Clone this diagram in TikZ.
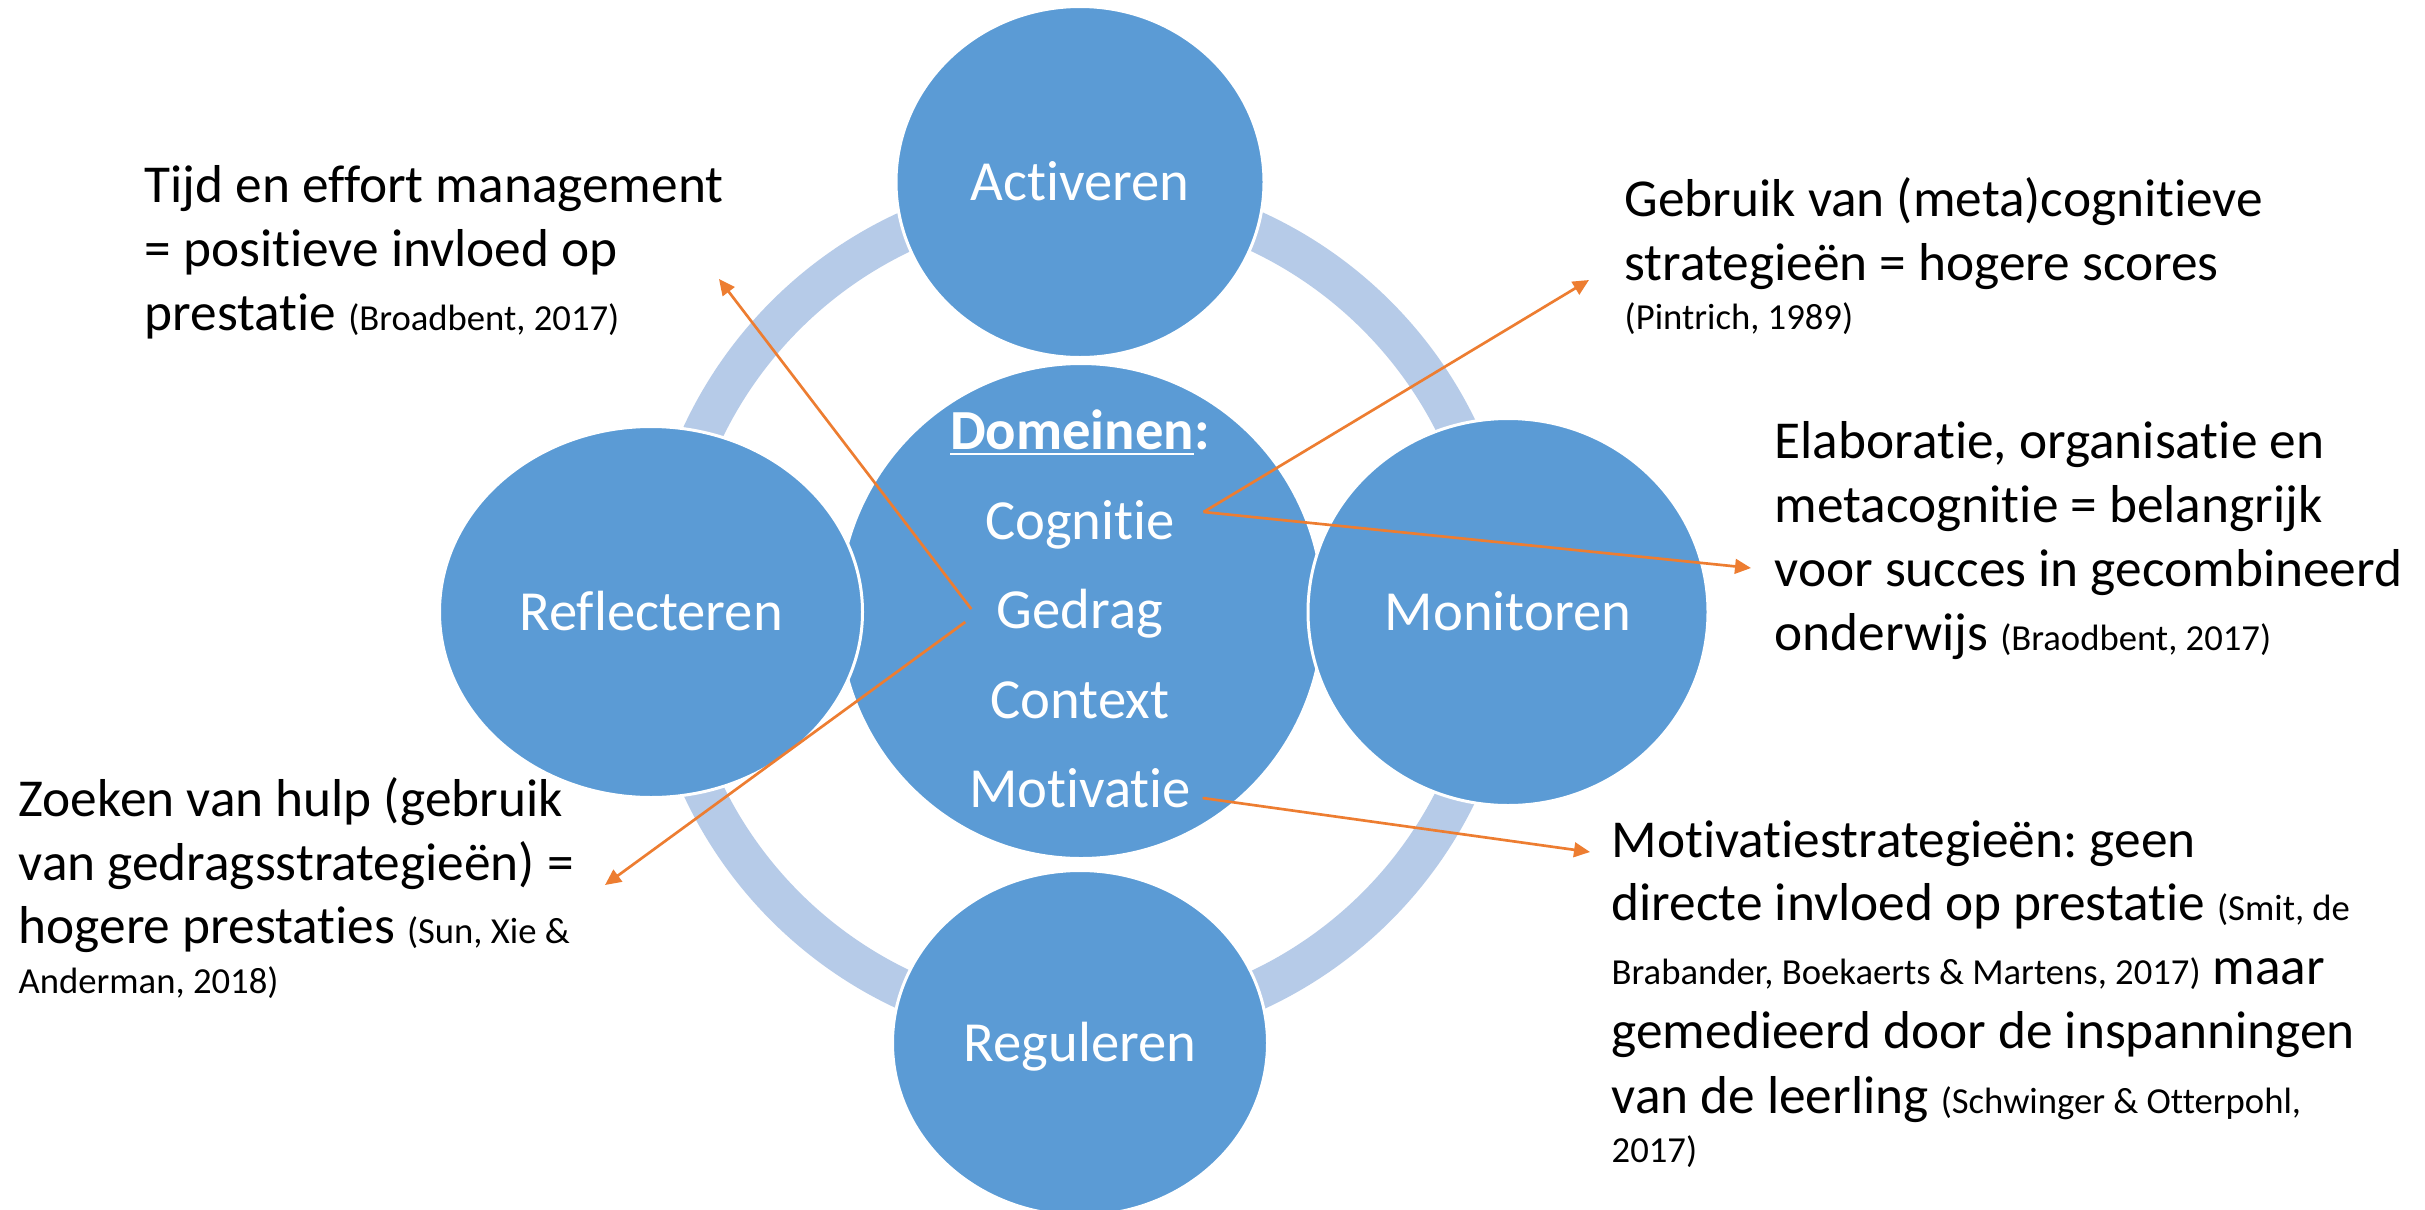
\documentclass[tikz,border=0pt]{standalone}
\usepackage{fontspec}
\setmainfont{Carlito}[Ligatures=NoCommon]
\usetikzlibrary{shapes.geometric,arrows.meta}
\definecolor{cblue}{HTML}{5B9BD5}
\definecolor{cring}{HTML}{B6CBE8}
\definecolor{corange}{HTML}{ED7D31}
\newcommand\maintxt{\fontsize{16}{19}\selectfont}
\newcommand\reftxt{\fontsize{11}{13}\selectfont}
\newcommand\circtxt{\fontsize{17}{20}\selectfont}
\def\px{0.3pt}
\frenchspacing
\begin{document}
\begin{tikzpicture}[x=0.3pt,y=-0.3pt,
  blob/.style={ellipse, fill=cblue, draw=white, line width=0.9pt, inner sep=0pt,
    text=white, font=\circtxt, text height=11pt, text depth=0pt},
  dword/.style={anchor=base, inner sep=0pt, text=white, font=\circtxt},
  txt/.style={anchor=base west, inner sep=0pt, font=\maintxt, text=black},
  arr/.style={corange, line width=0.8pt, -{Triangle[length=4.8pt,width=4.4pt]}},
  ringstyle/.style={cring, line width=12pt}]
\useasboundingbox (0,0) rectangle (2425,1209);
\fill[white] (0,0) rectangle (2425,1209);
\clip (0,0) rectangle (2425,1209);

% ring
\draw[ringstyle] (1081,611) circle[radius=418];

% central circle
\node[blob, minimum width=485*\px, minimum height=495*\px] (dom) at (1081,611) {};

% outer circles
\node[blob, minimum width=368*\px, minimum height=351*\px] (act) at (1080,182) {Activeren};
\node[blob, minimum width=423*\px, minimum height=371*\px] (refl) at (651,612) {Reflecteren};
\node[blob, minimum width=400*\px, minimum height=387*\px] (mon) at (1508,612) {Monitoren};
\node[blob, minimum width=375*\px, minimum height=345*\px] (reg) at (1080,1043) {Reguleren};

% domain words
\node[dword] (dtitle) at (1080,449) {\underline{\textbf{Domeinen}}\textbf{:}};
\node[dword] (cog) at (1080,539) {Cognitie};
\node[dword] (ged) at (1080,628) {Gedrag};
\node[dword] (ctx) at (1080,718) {Context};
\node[dword] (mot) at (1080,807) {Motivatie};

% text blocks
\node[txt] (tl1) at (144,202) {Tijd en effort management};
\node[txt] (tl2) at (144,266) {= positieve invloed op};
\node[txt] (tl3) at (144,330) {prestatie {\reftxt (Broadbent, 2017)}};

\node[txt] (tr1) at (1624,216) {Gebruik van (meta)cognitieve};
\node[txt] (tr2) at (1624,280) {strategieën = hogere scores};
\node[txt] (tr3) at (1624,329) {\reftxt (Pintrich, 1989)};

\node[txt] (rm1) at (1774,458) {Elaboratie, organisatie en};
\node[txt] (rm2) at (1774,522) {metacognitie = belangrijk};
\node[txt] (rm3) at (1774,586) {voor succes in gecombineerd};
\node[txt] (rm4) at (1774,650) {onderwijs {\reftxt (Braodbent, 2017)}};

\node[txt] (bl1) at (18,816) {Zoeken van hulp (gebruik};
\node[txt] (bl2) at (18,880) {van gedragsstrategieën) =};
\node[txt] (bl3) at (18,943) {hogere prestaties {\reftxt (Sun, Xie \&}};
\node[txt] (bl4) at (18,993) {\reftxt Anderman, 2018)};

\node[txt] (br1) at (1611,857) {Motivatiestrategieën: geen};
\node[txt] (br2) at (1611,920) {directe invloed op prestatie {\reftxt (Smit, de}};
\node[txt] (br3) at (1611,984) {{\reftxt Brabander, Boekaerts \& Martens, 2017)} maar};
\node[txt] (br4) at (1611,1048) {gemedieerd door de inspanningen};
\node[txt] (br5) at (1611,1113) {van de leerling {\reftxt (Schwinger \& Otterpohl,}};
\node[txt] (br6) at (1611,1162) {\reftxt 2017)};

% arrow tips
\coordinate (tTijd) at (719,279);
\coordinate (tGebr) at (1589,280);
\coordinate (tElab) at (1751,568);
\coordinate (tMot) at (1590,852);
\coordinate (tZoek) at (605,885);

% connectors
\draw[arr] ([shift={(28,-27)}]cog.base east) -- (tGebr);
\draw[arr] ([shift={(28,-27)}]cog.base east) -- (tElab);
\draw[arr] ([shift={(-25,-19)}]ged.base west) -- (tTijd);
\draw[arr] ([shift={(-31,-6)}]ged.base west) -- (tZoek);
\draw[arr] ([shift={(11,-9)}]mot.base east) -- (tMot);
\end{tikzpicture}
\end{document}
